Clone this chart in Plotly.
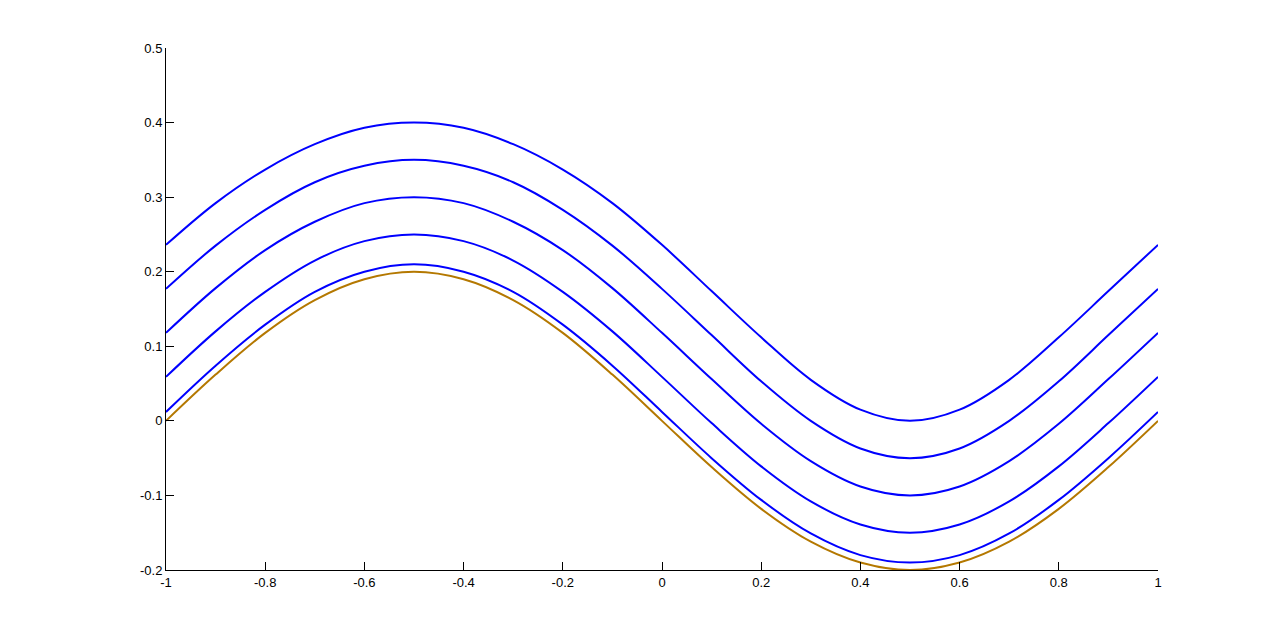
import plotly.graph_objects as go

x_vals = [-1.0, -0.9, -0.8, -0.7, -0.6, -0.5, -0.4, -0.3, -0.2, -0.1, 0.0,
          0.1, 0.2, 0.3, 0.4, 0.5, 0.6, 0.7, 0.8, 0.9, 1.0]

base_curve = [0.000, 0.062, 0.118, 0.162, 0.190, 0.200, 0.190, 0.162, 0.118, 0.062, 0.000,
              -0.062, -0.118, -0.162, -0.190, -0.200, -0.190, -0.162, -0.118, -0.062, 0.000]

offset_001 = [0.012, 0.074, 0.129, 0.173, 0.200, 0.210, 0.200, 0.173, 0.129, 0.074, 0.012,
              -0.050, -0.106, -0.151, -0.180, -0.190, -0.180, -0.151, -0.106, -0.050, 0.012]
offset_005 = [0.059, 0.120, 0.173, 0.215, 0.241, 0.250, 0.241, 0.215, 0.173, 0.120, 0.059,
              -0.003, -0.061, -0.108, -0.139, -0.150, -0.139, -0.108, -0.061, -0.003, 0.059]
offset_010 = [0.118, 0.178, 0.229, 0.267, 0.292, 0.300, 0.292, 0.267, 0.229, 0.178, 0.118,
              0.056, -0.004, -0.054, -0.088, -0.100, -0.088, -0.054, -0.004, 0.056, 0.118]
offset_015 = [0.177, 0.235, 0.283, 0.320, 0.342, 0.350, 0.342, 0.320, 0.283, 0.235, 0.177,
              0.115, 0.053, 0.000, -0.037, -0.050, -0.037, 0.000, 0.053, 0.115, 0.177]
offset_020 = [0.236, 0.292, 0.337, 0.371, 0.393, 0.400, 0.393, 0.371, 0.337, 0.292, 0.236,
              0.174, 0.112, 0.055, 0.015, 0.000, 0.015, 0.055, 0.112, 0.174, 0.236]

x_ticks = [-1, -0.8, -0.6, -0.4, -0.2, 0, 0.2, 0.4, 0.6, 0.8, 1]
x_tick_labels = ["-1", "-0.8", "-0.6", "-0.4", "-0.2", "0", "0.2", "0.4", "0.6", "0.8", "1"]
y_ticks = [-0.2, -0.1, 0, 0.1, 0.2, 0.3, 0.4, 0.5]
y_tick_labels = ["-0.2", "-0.1", "0", "0.1", "0.2", "0.3", "0.4", "0.5"]

fig = go.Figure()
for ys in [offset_020, offset_015, offset_010, offset_005, offset_001]:
    fig.add_trace(go.Scatter(x=x_vals, y=ys, mode="lines",
                             line=dict(color="#0000FF", width=2, shape="spline"),
                             showlegend=False, hoverinfo="skip"))
fig.add_trace(go.Scatter(x=x_vals, y=base_curve, mode="lines",
                         line=dict(color="#B47800", width=2, shape="spline"),
                         showlegend=False, hoverinfo="skip"))

axis_font = dict(family="Liberation Sans, Arial, sans-serif", size=13, color="black")
fig.update_layout(
    width=1280, height=641,
    margin=dict(l=158, r=130, t=40, b=79, pad=0),
    paper_bgcolor="white", plot_bgcolor="white",
    xaxis=dict(range=[-1, 1], tickvals=x_ticks, ticktext=x_tick_labels,
               showline=True, linecolor="black", linewidth=1, mirror=False,
               ticks="inside", ticklen=8, tickcolor="black", tickwidth=1,
               showgrid=False, zeroline=False, tickfont=axis_font),
    yaxis=dict(range=[-0.2, 0.5], tickvals=y_ticks, ticktext=y_tick_labels,
               showline=True, linecolor="black", linewidth=1, mirror=False,
               ticks="inside", ticklen=8, tickcolor="black", tickwidth=1,
               showgrid=False, zeroline=False, tickfont=axis_font),
)

fig.write_html("out.html")
